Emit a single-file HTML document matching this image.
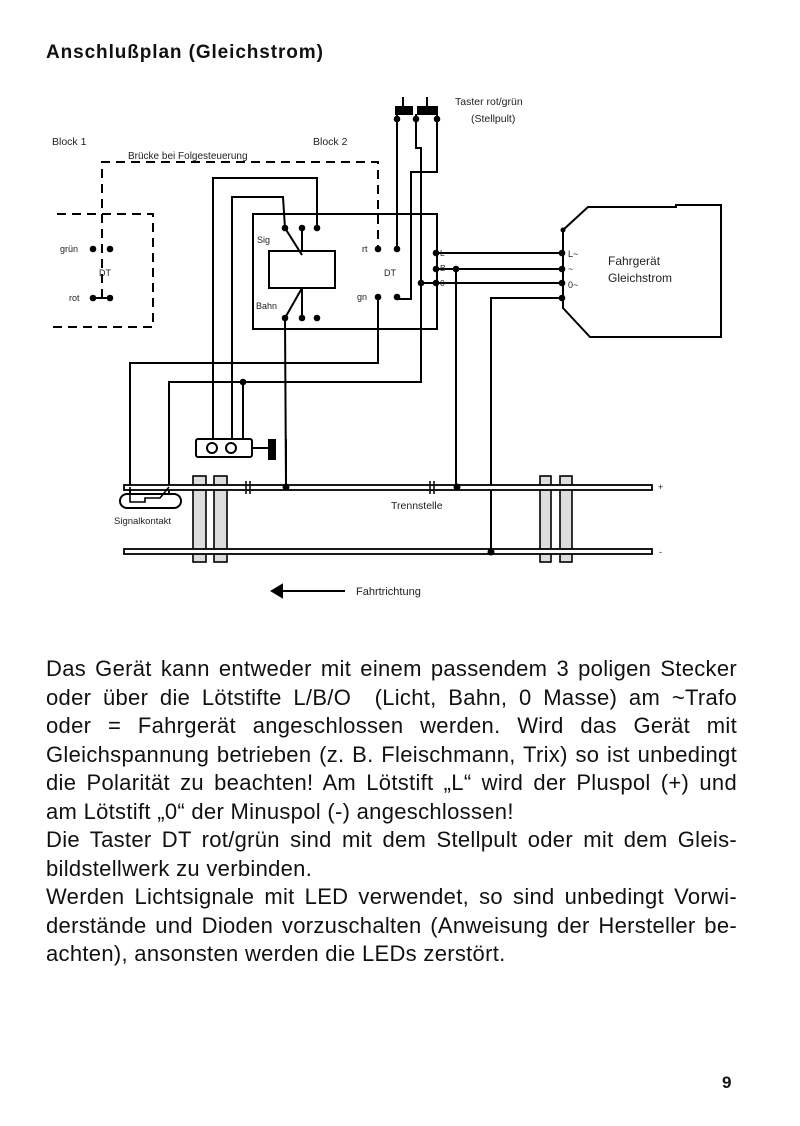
<!DOCTYPE html>
<html><head><meta charset="utf-8">
<style>
html,body{margin:0;padding:0;background:#fff;}
body{width:800px;height:1126px;position:relative;overflow:hidden;font-family:"Liberation Sans",sans-serif;color:#111;}
.t{position:absolute;left:46px;top:42px;font-size:19px;font-weight:bold;letter-spacing:0.9px;}
.p{position:absolute;left:46px;top:655px;width:691px;font-size:22px;line-height:28.5px;letter-spacing:0.3px;}
.p div{text-align:justify;text-align-last:justify;white-space:nowrap;}
.p div.l{text-align-last:left;}
.n{position:absolute;left:722px;top:1073px;font-size:17px;font-weight:bold;}
svg{position:absolute;left:0;top:0;}
</style></head><body>
<div class="t">Anschlußplan (Gleichstrom)</div>
<svg width="800" height="640" viewBox="0 0 800 640" font-family="Liberation Sans, sans-serif" fill="none" stroke="#000" stroke-width="2">
<g stroke-dasharray="9,6">
<polyline points="102,298 102,162 378,162 378,249"/>
<polyline points="57,214 153,214 153,327 50,327"/>
</g>
<line x1="93" y1="298" x2="110" y2="298"/>
<rect x="253" y="214" width="184" height="115"/>
<rect x="269" y="251" width="66" height="37"/>
<polyline points="213,439 213,178 317,178 317,228"/>
<polyline points="232,439 232,197 283,197 285,228 302,255"/>
<line x1="302" y1="228" x2="302" y2="251"/>
<polyline points="302,288 285,318 286,487"/>
<line x1="302" y1="318" x2="302" y2="288"/>
<line x1="403" y1="97" x2="403" y2="110"/><line x1="427" y1="97" x2="427" y2="110"/>
<rect x="396" y="107" width="16" height="7" fill="#000"/><rect x="418" y="107" width="19" height="7" fill="#000"/>
<line x1="397" y1="114" x2="397" y2="249"/>
<polyline points="416,114 416,148 421,148 421,382 169,382 169,500"/>
<polyline points="437,114 437,172 411,172 411,299 397,299"/>
<line x1="243" y1="382" x2="243" y2="439"/>
<polyline points="378,297 378,363 130,363 130,500"/>
<line x1="436" y1="253" x2="562" y2="253"/>
<line x1="436" y1="269" x2="562" y2="269"/>
<line x1="421" y1="283" x2="562" y2="283"/>
<polyline points="562,298 491,298 491,552"/>
<line x1="456" y1="269" x2="456" y2="487"/>
<polyline points="563,230 563,308 590,337 721,337 721,205 676,205 676,207 588,207 563,230"/>
<rect x="196" y="439" width="56" height="18" rx="2"/>
<circle cx="212" cy="448" r="5"/><circle cx="231" cy="448" r="5"/>
<line x1="252" y1="448" x2="268" y2="448"/>
<rect x="268" y="439" width="8" height="21" fill="#000" stroke="none"/>
<g fill="#ddd" stroke-width="1.6">
<rect x="193" y="476" width="13" height="86"/><rect x="214" y="476" width="13" height="86"/>
<rect x="540" y="476" width="11" height="86"/><rect x="560" y="476" width="12" height="86"/>
</g>
<rect x="124" y="485" width="528" height="5" fill="#fff" stroke-width="1.8"/>
<rect x="124" y="549" width="528" height="5" fill="#fff" stroke-width="1.8"/>
<g stroke-width="1.5"><line x1="246" y1="481" x2="246" y2="494"/><line x1="250" y1="481" x2="250" y2="494"/>
<line x1="430" y1="481" x2="430" y2="494"/><line x1="434" y1="481" x2="434" y2="494"/></g>
<line x1="286" y1="439" x2="286" y2="487"/>
<rect x="120" y="494" width="61" height="14" rx="7" fill="#fff"/>
<polyline points="130,487 130,502 145,502 145,498 160,498 169,487" stroke-width="1.6"/>
<line x1="280" y1="591" x2="345" y2="591"/>
<polygon points="272,591 282,585 282,597" fill="#000"/>
<g fill="#000" stroke="none">
<circle cx="93" cy="249" r="3.3"/><circle cx="110" cy="249" r="3.3"/><circle cx="93" cy="298" r="3.3"/><circle cx="110" cy="298" r="3.3"/>
<circle cx="285" cy="228" r="3.3"/><circle cx="302" cy="228" r="3.3"/><circle cx="317" cy="228" r="3.3"/>
<circle cx="285" cy="318" r="3.3"/><circle cx="302" cy="318" r="3.3"/><circle cx="317" cy="318" r="3.3"/>
<circle cx="378" cy="249" r="3.3"/><circle cx="397" cy="249" r="3.3"/><circle cx="378" cy="297" r="3.3"/><circle cx="397" cy="297" r="3.3"/>
<circle cx="397" cy="119" r="3.3"/><circle cx="416" cy="119" r="3.3"/><circle cx="437" cy="119" r="3.3"/>
<circle cx="436" cy="253" r="3.3"/><circle cx="436" cy="269" r="3.3"/><circle cx="436" cy="283" r="3.3"/><circle cx="421" cy="283" r="3.3"/><circle cx="456" cy="269" r="3.3"/>
<circle cx="562" cy="253" r="3.3"/><circle cx="562" cy="269" r="3.3"/><circle cx="562" cy="283" r="3.3"/><circle cx="562" cy="298" r="3.3"/><circle cx="563" cy="230" r="2.5"/>
<circle cx="243" cy="382" r="3.3"/><circle cx="286" cy="487" r="3.5"/><circle cx="457" cy="487" r="3.5"/><circle cx="491" cy="552" r="3.5"/>
</g>
<g fill="#222" stroke="none" font-size="10.5">
<text x="52" y="145">Block 1</text><text x="313" y="145">Block 2</text>
<text x="128" y="159" font-size="10">Brücke bei Folgesteuerung</text>
<text x="60" y="252" font-size="9">grün</text><text x="69" y="301" font-size="9">rot</text><text x="99" y="276" font-size="9">DT</text>
<text x="257" y="243" font-size="9">Sig</text><text x="256" y="309" font-size="9">Bahn</text>
<text x="362" y="252" font-size="9">rt</text><text x="357" y="300" font-size="9">gn</text><text x="384" y="276" font-size="9">DT</text>
<text x="440" y="256" font-size="8.5">L</text><text x="440" y="271" font-size="8.5">B</text><text x="440" y="286" font-size="8.5">0</text>
<text x="568" y="257" font-size="9">L~</text><text x="568" y="272" font-size="9">~</text><text x="568" y="288" font-size="9">0~</text>
<text x="608" y="265" font-size="12">Fahrgerät</text><text x="608" y="282" font-size="12">Gleichstrom</text>
<text x="455" y="105">Taster rot/grün</text><text x="471" y="122">(Stellpult)</text>
<text x="114" y="524" font-size="9.5">Signalkontakt</text><text x="391" y="509">Trennstelle</text>
<text x="658" y="490" font-size="9">+</text><text x="659" y="555" font-size="9">-</text>
<text x="356" y="595" font-size="11">Fahrtrichtung</text>
</g>
</svg>
<div class="p">
<div>Das Gerät kann entweder mit einem passendem 3 poligen Stecker</div>
<div>oder über die Lötstifte L/B/O &nbsp;(Licht, Bahn, 0 Masse) am ~Trafo</div>
<div>oder = Fahrgerät angeschlossen werden. Wird das Gerät mit</div>
<div>Gleichspannung betrieben (z. B. Fleischmann, Trix) so ist unbedingt</div>
<div>die Polarität zu beachten! Am Lötstift „L“ wird der Pluspol (+) und</div>
<div class="l">am Lötstift „0“ der Minuspol (-) angeschlossen!</div>
<div>Die Taster DT rot/grün sind mit dem Stellpult oder mit dem Gleis-</div>
<div class="l">bildstellwerk zu verbinden.</div>
<div>Werden Lichtsignale mit LED verwendet, so sind unbedingt Vorwi-</div>
<div>derstände und Dioden vorzuschalten (Anweisung der Hersteller be-</div>
<div class="l">achten), ansonsten werden die LEDs zerstört.</div>
</div>
<div class="n">9</div>
</body></html>
